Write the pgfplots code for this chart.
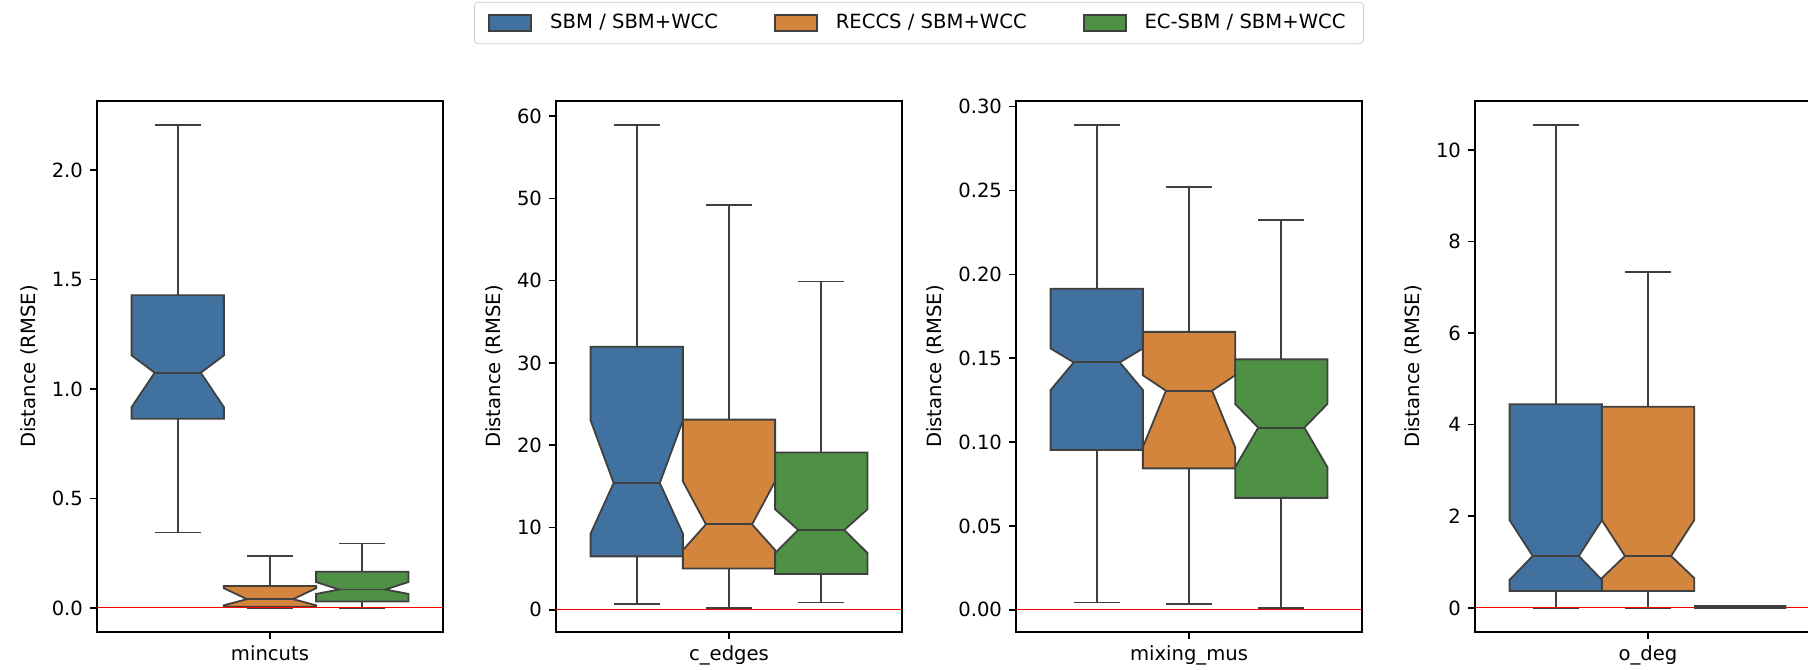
\documentclass[border=0pt]{standalone}
\usepackage{fontspec}
\setmainfont{DejaVu Sans}
\usepackage{pgfplots}
\pgfplotsset{compat=1.18}
\definecolor{cblue}{HTML}{41729F}
\definecolor{corange}{HTML}{D3843D}
\definecolor{cgreen}{HTML}{4E9145}
\definecolor{edge}{HTML}{404040}

\pgfplotsset{
  panel/.style={
    scale only axis, width=173pt, height=265.5pt,
    anchor=south west,
    xmin=-0.5, xmax=0.5, xtick={0},
    tick pos=left, tick align=outside, major tick length=3.5pt,
    tick style={black, line width=0.8pt},
    axis line style={line width=0.8pt},
    font=\fontsize{9.8}{11.8}\selectfont,
    ylabel={Distance (RMSE)},
    scaled y ticks=false,
    /pgf/number format/assume math mode=true,
    legend image code/.code={\draw[sharp corners, ##1] (0pt,-4pt) rectangle (21pt,4pt);},
  },
  wh/.style={edge, line width=0.8pt, forget plot},
  bx/.style={draw=edge, line width=0.9pt, line join=miter, forget plot},
  zero/.style={red, line width=0.5pt, forget plot},
}

% \nbox{pos}{lower whisker}{q1}{notch low}{median}{notch high}{q3}{upper whisker}{colour}
\newcommand\nbox[9]{%
  \pgfmathsetmacro\xa{#1-0.133333}%
  \pgfmathsetmacro\xb{#1+0.133333}%
  \pgfmathsetmacro\xc{#1-0.066667}%
  \pgfmathsetmacro\xd{#1+0.066667}%
  \edef\tmp{%
    \noexpand\addplot[wh] coordinates {(#1,#2) (#1,#3)};
    \noexpand\addplot[wh] coordinates {(#1,#7) (#1,#8)};
    \noexpand\addplot[wh] coordinates {(\xc,#2) (\xd,#2)};
    \noexpand\addplot[wh] coordinates {(\xc,#8) (\xd,#8)};
    \noexpand\addplot[bx, fill=#9] coordinates {(\xa,#3) (\xb,#3) (\xb,#4) (\xd,#5) (\xb,#6) (\xb,#7) (\xa,#7) (\xa,#6) (\xc,#5) (\xa,#4) (\xa,#3) (\xb,#3)};
    \noexpand\addplot[bx] coordinates {(\xc,#5) (\xd,#5)};
  }\tmp
}

\begin{document}
\begin{tikzpicture}
\useasboundingbox (0,0) rectangle (904pt,334.5pt);

% ---- mincuts
\begin{axis}[panel, at={(48.5pt,18.5pt)},
  ymin=-0.110, ymax=2.315, ytick={0,0.5,1,1.5,2},
  yticklabel style={/pgf/number format/.cd, fixed, fixed zerofill, precision=1},
  xticklabels={mincuts}]
  \nbox{-0.266667}{0.345}{0.864}{0.917}{1.074}{1.153}{1.428}{2.205}{cblue}
  \nbox{0}{0.0}{0.005}{0.012}{0.040}{0.090}{0.100}{0.236}{corange}
  \nbox{0.266667}{0.0}{0.029}{0.064}{0.084}{0.118}{0.165}{0.295}{cgreen}
  \addplot[zero] coordinates {(-0.5,0) (0.5,0)};
\end{axis}

% ---- c_edges
\begin{axis}[panel, at={(278pt,18.5pt)},
  ymin=-2.71, ymax=61.83, ytick={0,10,...,60},
  xticklabels={c\_edges},
  legend columns=3,
  legend style={at={(1.049,1.147)}, anchor=center, draw=black!20,
    rounded corners=2pt, inner xsep=7pt, inner ysep=4pt,
    font=\fontsize{9.8}{11.8}\selectfont,
    /tikz/every odd column/.append style={column sep=7pt},
    /tikz/every even column/.append style={column sep=26pt}}]
  \addlegendimage{fill=cblue, draw=edge, line width=0.9pt}
  \addlegendentry{SBM / SBM+WCC}
  \addlegendimage{fill=corange, draw=edge, line width=0.9pt}
  \addlegendentry{RECCS / SBM+WCC}
  \addlegendimage{fill=cgreen, draw=edge, line width=0.9pt}
  \addlegendentry{EC-SBM / SBM+WCC}
  \nbox{-0.266667}{0.72}{6.48}{9.25}{15.4}{23.0}{31.96}{58.9}{cblue}
  \nbox{0}{0.22}{5.0}{7.24}{10.37}{15.6}{23.1}{49.2}{corange}
  \nbox{0.266667}{0.9}{4.34}{6.9}{9.7}{12.2}{19.1}{39.9}{cgreen}
  \addplot[zero] coordinates {(-0.5,0) (0.5,0)};
\end{axis}

% ---- mixing_mus
\begin{axis}[panel, at={(508pt,18.5pt)},
  ymin=-0.0133, ymax=0.3034, ytick={0,0.05,0.1,0.15,0.2,0.25,0.3},
  yticklabel style={/pgf/number format/.cd, fixed, fixed zerofill, precision=2},
  xticklabels={mixing\_mus}]
  \nbox{-0.266667}{0.0044}{0.0953}{0.131}{0.1475}{0.1558}{0.1914}{0.289}{cblue}
  \nbox{0}{0.0035}{0.0843}{0.097}{0.1306}{0.1398}{0.1657}{0.2522}{corange}
  \nbox{0.266667}{0.0011}{0.0667}{0.085}{0.1086}{0.1227}{0.1493}{0.2324}{cgreen}
  \addplot[zero] coordinates {(-0.5,0) (0.5,0)};
\end{axis}

% ---- o_deg
\begin{axis}[panel, at={(737.5pt,18.5pt)},
  ymin=-0.527, ymax=11.067, ytick={0,2,...,10},
  xticklabels={o\_deg}]
  \nbox{-0.266667}{0}{0.37}{0.611}{1.133}{1.913}{4.445}{10.54}{cblue}
  \nbox{0}{0}{0.37}{0.65}{1.133}{1.913}{4.39}{7.33}{corange}
  \addplot[zero] coordinates {(-0.5,0) (0.5,0)};
  \nbox{0.266667}{0}{0.0}{0.0}{0.02}{0.04}{0.04}{0.05}{cgreen}
\end{axis}
\end{tikzpicture}
\end{document}
